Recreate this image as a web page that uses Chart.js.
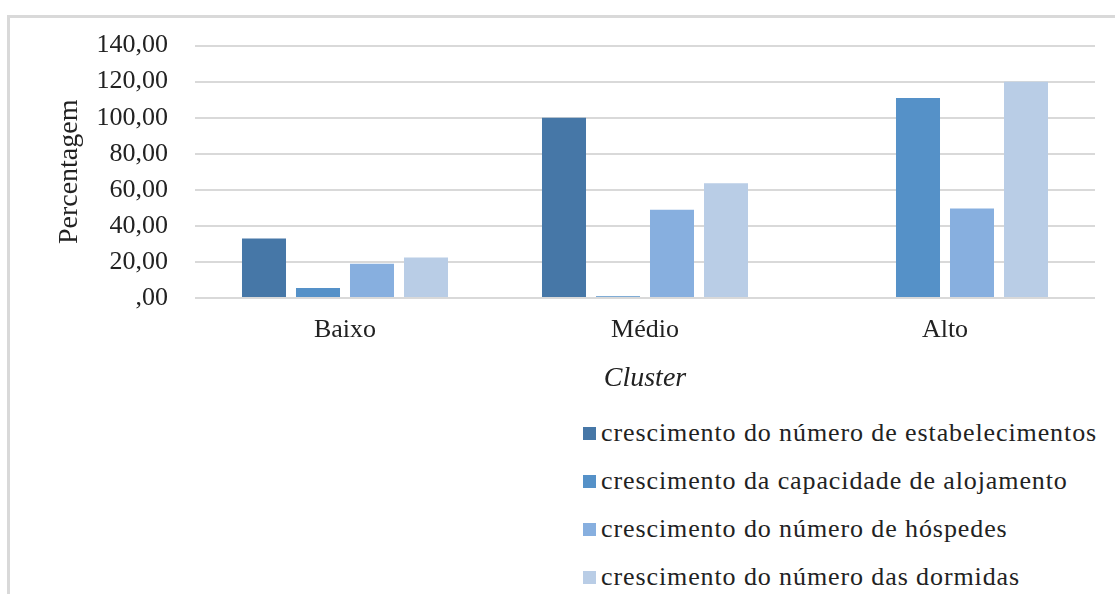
<!DOCTYPE html>
<html>
<head>
<meta charset="utf-8">
<script src="https://cdn.jsdelivr.net/npm/chart.js@4/dist/chart.umd.min.js"></script>
<style>
  html, body { margin: 0; padding: 0; background: #fff; }
  .wrapper { position: relative; width: 1115px; height: 594px; overflow: hidden; }
  .frame { position: absolute; left: 7px; top: 15px; width: 1110px; height: 600px;
    border-top: 3px solid #d9d9d9; border-left: 3px solid #d9d9d9; }
  .chart-box { position: absolute; left: 0; top: 3px; width: 1115px; height: 400px; }
  .legend { position: absolute; left: 583px; top: 418px; margin: 0; padding: 0; list-style: none;
    font-family: "Liberation Serif", "Times New Roman", serif; font-size: 26px; color: #222; letter-spacing: 0.9px; }
  .legend li { height: 48px; line-height: 30px; white-space: nowrap; }
  .legend span { display: inline-block; width: 13px; height: 13px; margin-right: 5px; vertical-align: 1px; }
</style>
</head>
<body>
<div class="wrapper">
  <div class="frame"></div>
  <div class="chart-box"><canvas id="clusterChart"></canvas></div>
  <ul class="legend" id="clusterLegend"></ul>
</div>
<script>
  // Data
  const categories = ["Baixo", "Médio", "Alto"];
  const seriesNames = [
    "crescimento do número de estabelecimentos",
    "crescimento da capacidade de alojamento",
    "crescimento do número de hóspedes",
    "crescimento do número das dormidas",
  ];
  const estabelecimentos = [33, 100, 0];
  const capacidade = [5.6, 1, 111];
  const hospedes = [19, 49, 49.6];
  const dormidas = [22.5, 63.6, 120];
  const yTickLabels = [",00", "20,00", "40,00", "60,00", "80,00", "100,00", "120,00", "140,00"];

  const seriesColors = ["#4677a7", "#5591c8", "#87afdf", "#b9cde6"];
  const serif = "'Liberation Serif', 'Times New Roman', serif";

  // Chart
  let clusterChartCanvas = document.getElementById("clusterChart");
  if (clusterChartCanvas) {
    var ctx = clusterChartCanvas.getContext("2d");
    var values = [estabelecimentos, capacidade, hospedes, dormidas];
    var data = {
      labels: categories,
      datasets: values.map(function (v, i) {
        return {
          label: seriesNames[i],
          data: v,
          backgroundColor: seriesColors[i],
          borderWidth: 0,
          categoryPercentage: 0.72,
          barPercentage: 0.815,
        };
      }),
    };
    var options = {
      responsive: true,
      maintainAspectRatio: false,
      animation: false,
      layout: {
        padding: { top: 36, right: 20, bottom: 0, left: 20 },
      },
      plugins: {
        legend: { display: false },
        tooltip: { enabled: false },
      },
      scales: {
        x: {
          afterFit: function (scale) {
            scale.height = 105;
          },
          ticks: {
            color: "#222",
            font: { family: serif, size: 26 },
            padding: 17,
          },
          grid: { display: false, drawTicks: false },
          border: { display: false },
          title: {
            display: true,
            text: "Cluster",
            color: "#222",
            font: { family: serif, size: 28, style: "italic" },
            padding: { top: 16, bottom: 8 },
          },
        },
        y: {
          min: 0,
          max: 140,
          afterFit: function (scale) {
            scale.width = 175;
          },
          ticks: {
            stepSize: 20,
            color: "#222",
            font: { family: serif, size: 26 },
            padding: 27,
            callback: function (value, index) {
              return yTickLabels[index];
            },
          },
          grid: {
            color: "#d9d9d9",
            lineWidth: 2,
            drawTicks: false,
          },
          border: { display: false },
          title: {
            display: true,
            text: "Percentagem",
            color: "#222",
            font: { family: serif, size: 28 },
            padding: { top: 33, bottom: 12 },
          },
        },
      },
    };
    var clusterChart = new Chart(ctx, {
      type: "bar",
      data: data,
      options: options,
    });

    // Legend
    var legendEl = document.getElementById("clusterLegend");
    clusterChart.data.datasets.forEach(function (ds) {
      var li = document.createElement("li");
      var box = document.createElement("span");
      box.style.background = ds.backgroundColor;
      li.appendChild(box);
      li.appendChild(document.createTextNode(ds.label));
      legendEl.appendChild(li);
    });
  }
</script>
</body>
</html>
